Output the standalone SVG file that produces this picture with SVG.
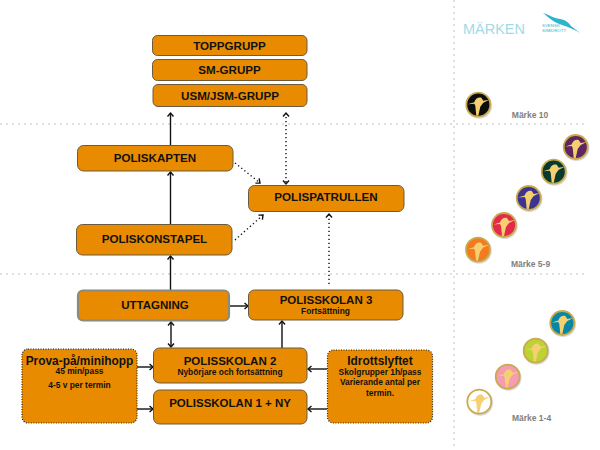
<svg xmlns="http://www.w3.org/2000/svg" width="600" height="450" viewBox="0 0 600 450">
<style>
text{font-family:"Liberation Sans",Arial,sans-serif;font-weight:bold;fill:#111;text-anchor:middle}
.n{fill:#e88b00;stroke:#6b5a3c;stroke-width:1}
.d{fill:#e88b00;stroke:#222;stroke-width:1.2;stroke-dasharray:1 1.5}
.u{fill:#e88b00;stroke:#8a8a80;stroke-width:2.2}
.m{font-size:11.6px}.b{font-size:11.5px}.h{font-size:11.9px}.s{font-size:8.4px}
.l{font-size:8.5px;fill:#808080}
.w{font-size:4.4px;font-weight:normal;fill:#2db5cc;text-anchor:start}
.g{stroke:#e0e0e0;stroke-width:2;stroke-dasharray:2 4;fill:none}
.a{stroke:#111;stroke-width:1.4;fill:none}
.o{stroke:#111;stroke-width:1.4;stroke-dasharray:1.3 2.7;fill:none}
.rim{fill:none;stroke:#c9ab4e;stroke-width:1.8}
.bird{fill:#f5d070}
.shadow{fill:#bbb;opacity:.55}
</style>
<defs>
<marker id="h" markerWidth="8" markerHeight="8" refX="5.5" refY="4" orient="auto-start-reverse" markerUnits="userSpaceOnUse"><path d="M2 1L5.500 4L2 7" fill="none" stroke="#111" stroke-width="1.400"/></marker>
<g id="b"><path class="bird" d="M-10.500-.5L-4-2.500C-3-6 0-8 3-7L5-4 11-5 5-2 2 2 0 11-2 11-3 1-4-1Z"/><circle r="12" class="rim"/></g>
</defs>

<g id="grid">
<path class="g" d="M0 124H585M0 274H585M454 0V446"/>
</g>

<g id="connectors">
<path class="a" marker-end="url(#h)" d="M170.500 145V113"/>
<path class="a" marker-end="url(#h)" d="M170.500 224V172"/>
<path class="a" marker-end="url(#h)" d="M170.500 291V256"/>
<path class="a" marker-start="url(#h)" marker-end="url(#h)" d="M171 322V347"/>
<path class="a" marker-end="url(#h)" d="M230 306H248"/>
<path class="a" marker-end="url(#h)" d="M282 348V321"/>
<path class="a" marker-end="url(#h)" d="M137 367H153"/>
<path class="a" marker-end="url(#h)" d="M137 409H153"/>
<path class="a" marker-end="url(#h)" d="M327 369H308"/>
<path class="a" marker-end="url(#h)" d="M327 409H308"/>
<path class="o" marker-start="url(#h)" marker-end="url(#h)" d="M286 113V184"/>
<path class="o" marker-end="url(#h)" d="M235 163L260 183"/>
<path class="o" marker-end="url(#h)" d="M235 240L263 215"/>
<path class="o" marker-end="url(#h)" d="M329 284V214"/>
</g>

<g id="toppgrupp"><rect class="n" x="152.500" y="35.500" width="154.500" height="20" rx="5"/><text class="m" x="229.500" y="49.500">TOPPGRUPP</text></g>
<g id="sm-grupp"><rect class="n" x="152.500" y="59.500" width="154.500" height="21" rx="5"/><text class="m" x="229.500" y="73.500">SM-GRUPP</text></g>
<g id="usm-jsm-grupp"><rect class="n" x="153" y="84.500" width="154" height="22" rx="5"/><text class="m" x="230" y="100">USM/JSM-GRUPP</text></g>
<g id="poliskapten"><rect class="n" x="77.500" y="145.500" width="155.500" height="25.500" rx="6"/><text class="m" x="155" y="161.500">POLISKAPTEN</text></g>
<g id="poliskonstapel"><rect class="n" x="76.500" y="224.500" width="155.500" height="30.500" rx="6"/><text class="m" x="154.500" y="242.500">POLISKONSTAPEL</text></g>
<g id="polispatrullen"><rect class="n" x="248.500" y="185.500" width="155.500" height="26" rx="6"/><text class="m" x="326" y="201">POLISPATRULLEN</text></g>
<g id="uttagning"><rect class="u" x="78" y="290.500" width="151" height="30" rx="5"/><text class="b" x="155" y="309">UTTAGNING</text></g>
<g id="polisskolan-3"><rect class="n" x="248.500" y="290" width="154.500" height="30" rx="6"/><text class="b" x="326" y="304">POLISSKOLAN 3</text><text class="s" x="325.500" y="314">Fortsättning</text></g>
<g id="polisskolan-2"><rect class="n" x="153.500" y="348" width="153.500" height="35" rx="6"/><text class="b" x="230" y="364.500">POLISSKOLAN 2</text><text class="s" x="230" y="375">Nybörjare och fortsättning</text></g>
<g id="polisskolan-1-ny"><rect class="n" x="153.500" y="390" width="153.500" height="34" rx="6"/><text class="b" x="230" y="406.500">POLISSKOLAN 1 + NY</text></g>
<g id="prova-pa"><rect class="d" x="22" y="349" width="115" height="74" rx="6"/><text class="h" x="79.500" y="364.500">Prova-på/minihopp</text><text class="s" x="79.500" y="374">45 min/pass</text><text class="s" x="79.500" y="388">4-5 v per termin</text></g>
<g id="idrottslyftet"><rect class="d" x="327.500" y="350" width="105" height="73" rx="6"/><text class="h" x="380" y="365">Idrottslyftet</text><text class="s" x="380" y="375">Skolgrupper 1h/pass</text><text class="s" x="380" y="385">Varierande antal per</text><text class="s" x="380" y="396">termin.</text></g>

<g id="marken-header">
<text x="494" y="33.500" style="font-size:14.500px;font-weight:normal;fill:#9fdbe6">MÄRKEN</text>
<path d="M543 13C550 15 553 18 560 19 566 20 569 23 571 26L580 33C573 29 568 27 562 25 555 23 549 18 543 13Z" fill="#2db5cc"/>
<text class="w" x="542" y="27">SVENSK</text>
<text class="w" x="542" y="32">SIMIDROTT</text>
</g>

<g id="badges">
<g class="shadow"><circle cx="479.100" cy="105.700" r="13"/><circle cx="576.500" cy="148" r="13"/><circle cx="554.500" cy="172.700" r="13"/><circle cx="529.500" cy="199" r="13"/><circle cx="504.800" cy="226" r="13"/><circle cx="478.800" cy="250.700" r="13"/><circle cx="563.100" cy="324" r="13"/><circle cx="536.500" cy="351.700" r="13"/><circle cx="508.500" cy="377.700" r="13"/><circle cx="480.100" cy="402.700" r="13"/></g>
<circle cx="478.300" cy="104.700" r="12" fill="#0d0d0d"/><use href="#b" x="478.300" y="104.700"/>
<circle cx="575.700" cy="147" r="12" fill="#5f2560"/><use href="#b" x="575.700" y="147"/>
<circle cx="553.700" cy="171.700" r="12" fill="#0a3a2f"/><use href="#b" x="553.700" y="171.700"/>
<circle cx="528.700" cy="198" r="12" fill="#3d3490"/><use href="#b" x="528.700" y="198"/>
<circle cx="504" cy="225" r="12" fill="#e5294a"/><use href="#b" x="504" y="225"/>
<circle cx="478" cy="249.700" r="12" fill="#f47a20"/><use href="#b" x="478" y="249.700"/>
<circle cx="562.300" cy="323" r="12" fill="#0a86a5"/><use href="#b" x="562.300" y="323"/>
<circle cx="535.700" cy="350.700" r="12" fill="#bcd235"/><use href="#b" x="535.700" y="350.700"/>
<circle cx="507.700" cy="376.700" r="12" fill="#f59bb2"/><use href="#b" x="507.700" y="376.700"/>
<circle cx="479.300" cy="401.700" r="12" fill="#fff"/><use href="#b" x="479.300" y="401.700"/>
<text class="l" x="530" y="117.500">Märke 10</text>
<text class="l" x="530.500" y="266.500">Märke 5-9</text>
<text class="l" x="531.500" y="421">Märke 1-4</text>
</g>
</svg>
